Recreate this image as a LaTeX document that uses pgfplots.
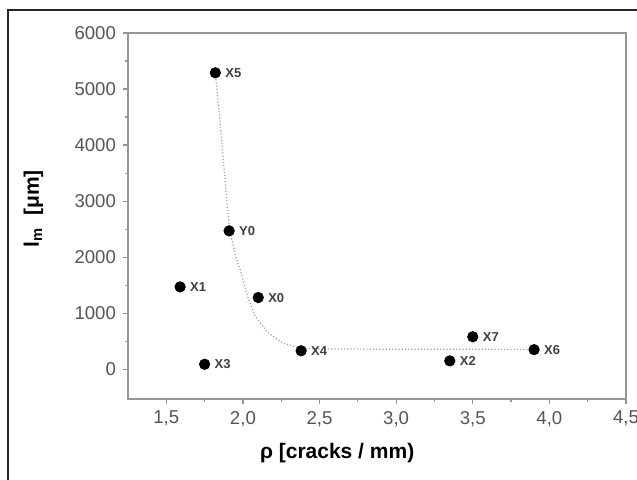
\documentclass[border=0pt]{standalone}
\usepackage{fontspec}
\setmainfont{Liberation Sans}
\usepackage{pgfplots}
\pgfplotsset{compat=1.18}

\definecolor{tickgray}{RGB}{85,85,85}
\definecolor{framegray}{RGB}{150,150,150}

% measured data points (rho, l_m)
\pgfplotstableread{
x     y     name
1.82  5290  X5
1.91  2470  Y0
1.59  1470  X1
2.10  1280  X0
1.75  90    X3
2.38  330   X4
3.50  580   X7
3.35  150   X2
3.90  350   X6
}\pts

\begin{document}
\begin{tikzpicture}
\useasboundingbox (-64pt,-40.5pt) rectangle (254.5pt,199.5pt);
% outer frame (cut at right and bottom)
\draw[line width=0.8pt, black!85] (-60pt,-41pt) -- (-60pt,194.5pt) -- (255pt,194.5pt);
\begin{axis}[
  scale only axis,
  width=249pt, height=183pt,
  xmin=1.25, xmax=4.5,
  ymin=-530, ymax=6000,
  xtick={1.5,2,2.5,3,3.5,4,4.5},
  ytick={0,1000,2000,3000,4000,5000,6000},
  minor x tick num=1,
  minor y tick num=1,
  tick pos=left,
  tick align=outside,
  major tick length=2.5pt,
  minor tick length=1.5pt,
  tick style={framegray, line width=0.6pt},
  axis line style={framegray, line width=0.9pt},
  tick label style={font=\fontsize{9.3}{10}\selectfont, text=tickgray},
  /pgf/number format/assume math mode=true,
  x tick label style={/pgf/number format/.cd, use comma, fixed, fixed zerofill, precision=1},
  y tick label style={/pgf/number format/.cd, 1000 sep={}},
  xlabel={ρ [cracks / mm)},
  ylabel={l\textsubscript{m}\ \ [μm]},
  xlabel style={font=\fontsize{10.5}{12}\bfseries, at={(axis description cs:0.42,-0.1475)}, anchor=center},
  ylabel style={font=\fontsize{10.5}{12}\bfseries, at={(axis description cs:-0.19,0.52)}, anchor=center},
]
% dotted fit curve
\addplot[densely dotted, gray!75, line width=0.6pt] coordinates {
  (1.82,5290) (1.85,4450) (1.875,3650) (1.895,3000) (1.915,2450)
  (1.95,2050) (1.985,1750) (2.03,1300) (2.08,950) (2.16,660)
  (2.26,470) (2.37,378) (2.5,362) (3.0,358) (3.5,356) (3.9,355)
};
\addplot[only marks, mark=*, mark size=2.6pt, black,
  nodes near coords, point meta=explicit symbolic,
  every node near coord/.append style={anchor=west, xshift=1.5pt, yshift=0pt,
    font=\fontsize{6.5}{7}\selectfont\bfseries, text=black!75}]
  table[x=x, y=y, meta=name] {\pts};
\end{axis}
\end{tikzpicture}
\end{document}
